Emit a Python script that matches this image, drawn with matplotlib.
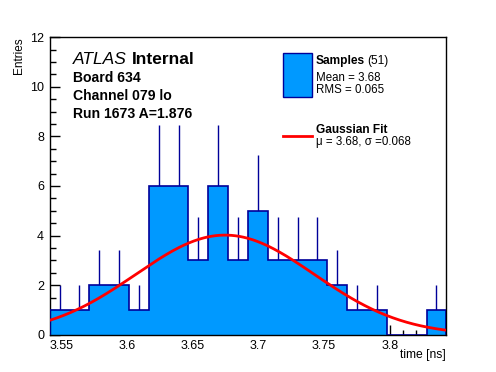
import numpy as np
import matplotlib
matplotlib.use("Agg")
import matplotlib.pyplot as plt
from matplotlib.ticker import MultipleLocator
from matplotlib.patches import Rectangle
from matplotlib.lines import Line2D

# ---- data ----
x_min = 3.5408
x_max = 3.8432
n_bins = 20
counts = [1, 1, 2, 2, 1, 6, 6, 3, 6, 3, 5, 3, 3, 3, 2, 1, 1, 0, 0, 1]
fit_amp = 4.02
fit_mu = 3.6745
fit_sigma = 0.068
x_ticks = [3.55, 3.6, 3.65, 3.7, 3.75, 3.8]
x_tick_labels = ["3.55", "3.6", "3.65", "3.7", "3.75", "3.8"]
y_ticks = [0, 2, 4, 6, 8, 10, 12]
n_samples = 51
mean_txt = "3.68"
rms_txt = "0.065"
mu_txt = "3.68"
sigma_txt = "0.068"

FONT = "Liberation Sans"
plt.rcParams['font.family'] = [FONT, 'DejaVu Sans']

W, H = 496, 372
fig = plt.figure(figsize=(W / 100, H / 100), dpi=100)
ax = fig.add_axes([0.1, 0.1, 0.8, 0.8])

edges = np.linspace(x_min, x_max, n_bins + 1)
cnt = np.array(counts, dtype=float)
centers = 0.5 * (edges[:-1] + edges[1:])

fill_c = "#0099ff"
edge_c = "#000099"

# error bars (drawn under the fill)
mask = cnt > 0
err = np.sqrt(cnt)
ax.vlines(centers[mask], cnt[mask] - err[mask], cnt[mask] + err[mask],
          color=edge_c, lw=1.0, zorder=1)
ax.stairs(cnt, edges, fill=True, color=fill_c, zorder=2)
ax.stairs(cnt, edges, fill=False, color=edge_c, lw=1.2, zorder=3, baseline=0)

xs = np.linspace(x_min, x_max, 400)
ys = fit_amp * np.exp(-0.5 * ((xs - fit_mu) / fit_sigma) ** 2)
ax.plot(xs, ys, color="#ff0000", lw=2.0, zorder=4)

ax.set_xlim(x_min, x_max)
ax.set_ylim(0, 12)
ax.set_xticks(x_ticks)
ax.set_xticklabels(x_tick_labels)
ax.set_yticks(y_ticks)
ax.xaxis.set_minor_locator(MultipleLocator(0.01))
ax.yaxis.set_minor_locator(MultipleLocator(0.5))
ax.tick_params(axis='both', which='both', direction='in', top=False, right=False,
               labelsize=9, width=1.0, color='black')
ax.tick_params(axis='x', which='major', length=7.0, pad=3.5)
ax.tick_params(axis='x', which='minor', length=3.5)
ax.tick_params(axis='y', which='major', length=7.5, pad=4)
ax.tick_params(axis='y', which='minor', length=4.0)
for s in ax.spines.values():
    s.set_linewidth(1.0)
for lab in ax.get_xticklabels() + ax.get_yticklabels():
    lab.set_fontfamily(FONT)

def px(x, y):
    return x / W, 1 - y / H

# axis titles
fig.text(*px(446, 357.7), "time [ns]", ha='right', va='baseline', fontsize=8.7)
fig.text(*px(19, 37), "Entries", ha='center', va='top', rotation=90, fontsize=8.5)

# ATLAS label
t = fig.text(*px(73.3, 64), "ATLAS", style='italic', ha='left', va='baseline', fontsize=12.5)
fig.canvas.draw()
bb = t.get_window_extent()
fig.text(bb.x1 / W + 4.5 / W, 1 - 64 / H, "Internal", fontweight='bold', ha='left',
         va='baseline', fontsize=12.5)
fig.text(*px(73.3, 81.7), "Board 634", fontweight='bold', ha='left', va='baseline', fontsize=10.1)
fig.text(*px(73.3, 100), "Channel 079 lo", fontweight='bold', ha='left', va='baseline', fontsize=10.1)
fig.text(*px(73.3, 118.3), "Run 1673 A=1.876", fontweight='bold', ha='left', va='baseline', fontsize=10.1)

# legend
x0, y0 = px(283.3, 96.7)
x1, y1 = px(311.7, 53.3)
fig.add_artist(Rectangle((x0, y0), x1 - x0, y1 - y0, transform=fig.transFigure,
                         facecolor=fill_c, edgecolor=edge_c, lw=1.0))
t = fig.text(*px(316, 64), "Samples", fontweight='bold', ha='left', va='baseline', fontsize=8.6)
fig.canvas.draw()
bb = t.get_window_extent()
fig.text(bb.x1 / W + 2.5 / W, 1 - 64 / H, f"({n_samples})", ha='left', va='baseline', fontsize=8.6)
fig.text(*px(316, 80.7), f"Mean = {mean_txt}", ha='left', va='baseline', fontsize=8.3)
fig.text(*px(316, 92.7), f"RMS = {rms_txt}", ha='left', va='baseline', fontsize=8.3)
lx0, ly = px(283.3, 135.7)
lx1, _ = px(311.7, 135.7)
fig.add_artist(Line2D([lx0, lx1], [ly, ly], transform=fig.transFigure, color="#ff0000", lw=2.0))
fig.text(*px(316, 132.7), "Gaussian Fit", fontweight='bold', ha='left', va='baseline', fontsize=8.6)
fig.text(*px(316, 145), f"\u03bc = {mu_txt}, \u03c3 ={sigma_txt}", ha='left', va='baseline', fontsize=8.3)

fig.savefig("out.png", dpi=100)
